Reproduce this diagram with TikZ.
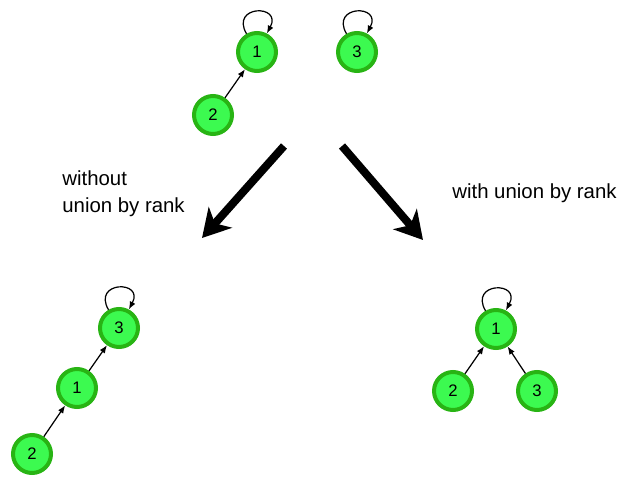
\documentclass[tikz,border=0pt]{standalone}
\usepackage{fontspec}
\setmainfont{Liberation Sans}
\usepackage{xcolor}
\usepackage{tikz}
\usetikzlibrary{arrows,arrows.meta}
\definecolor{nodefill}{RGB}{60,250,80}
\definecolor{nodeline}{RGB}{40,180,20}

\begin{document}
\begin{tikzpicture}[x=0.02cm, y=0.02cm,
	circ/.style={circle, draw=nodeline, fill=nodefill, line width=0.08cm, minimum size=0.76cm, inner sep=0, font=\fontsize{9.5}{11}\selectfont, align=center},
	link/.style={-{Latex[length=4.5pt,width=3.5pt]}, line width=0.7pt},
	selfloop/.style={-{Latex[length=4.5pt,width=3.5pt]}, line width=0.7pt, out=120, in=62, looseness=4.2},
	bigarrow/.style={-{Stealth[length=0.55cm,width=0.62cm,inset=0.16cm]}, line width=0.16cm},
	lbl/.style={font=\fontsize{11.6}{15.3}\selectfont, align=left, anchor=west, inner sep=0}
]
\useasboundingbox (0,0) rectangle (625,484);

% before the union
\node[circ] (t1) at (257,432) {1};
\node[circ] (t3) at (357,432) {3};
\node[circ] (t2) at (213,369) {2};
\draw[link] (t2) -- (t1);
\draw[selfloop] (t1) to (t1);
\draw[selfloop] (t3) to (t3);

% the two ways
\coordinate (la) at (284,338);
\coordinate (lb) at (202,246);
\coordinate (ra) at (342,338);
\coordinate (rb) at (423,244);
\draw[bigarrow] (la) -- (lb);
\draw[bigarrow] (ra) -- (rb);
\node[lbl] (wo) at (62,290) {without\\union by rank};
\node[lbl] (wi) at (452,291) {with union by rank};

% without union by rank
\node[circ] (l3) at (119,156) {3};
\node[circ] (l1) at (77,96) {1};
\node[circ] (l2) at (32,30) {2};
\draw[link] (l1) -- (l3);
\draw[link] (l2) -- (l1);
\draw[selfloop] (l3) to (l3);

% with union by rank
\node[circ] (r1) at (496,155) {1};
\node[circ] (r2) at (453,93) {2};
\node[circ] (r3) at (537,93) {3};
\draw[link] (r2) -- (r1);
\draw[link] (r3) -- (r1);
\draw[selfloop] (r1) to (r1);
\end{tikzpicture}
\end{document}
